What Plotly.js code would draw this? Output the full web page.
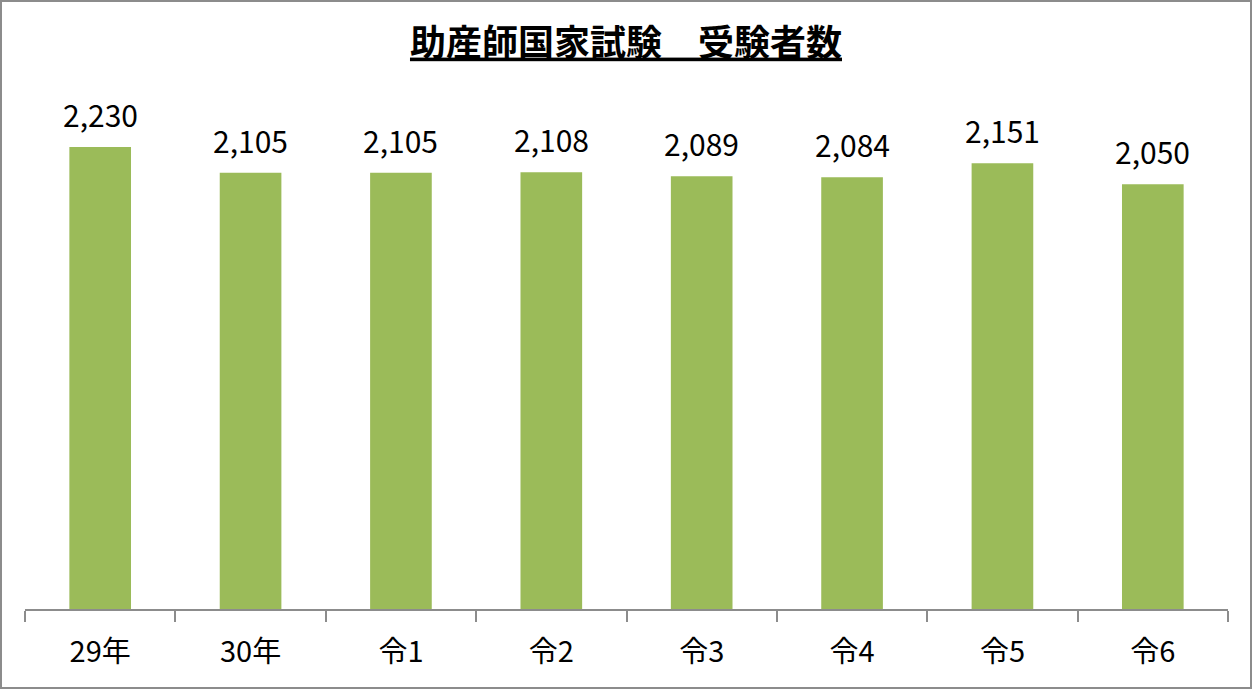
<!DOCTYPE html>
<html>
<head>
<meta charset="utf-8">
<script src="https://cdn.plot.ly/plotly-3.0.1.min.js"></script>
<style>
  html, body { margin: 0; padding: 0; background: #fff; }
  #frame { position: absolute; left: 0; top: 0; width: 1248px; height: 685px; border: 2px solid #8c8c8c; }
  #chart { position: absolute; left: -2px; top: -2px; width: 1252px; height: 689px; }
</style>
</head>
<body>
<div id="frame"><div id="chart"></div></div>
<script>
/* ── 助産師国家試験 受験者数 ── */

const years  = ["29年", "30年", "令1", "令2", "令3", "令4", "令5", "令6"];
const counts = [2230, 2105, 2105, 2108, 2089, 2084, 2151, 2050];

const BAR_COLOR  = "#9bbb59";
const AXIS_COLOR = "#8c8c8c";
const FONT = "'Noto Sans CJK JP', 'Noto Sans', sans-serif";

const bars = {
  type: "bar",
  x: years,
  y: counts,
  width: 0.41,
  marker: { color: BAR_COLOR, line: { width: 0 } },
  hoverinfo: "skip",
  showlegend: false,
};

/* data labels above each bar */
const annotations = years.map((yr, i) => ({
  x: yr, y: counts[i],
  xref: "x", yref: "y",
  text: counts[i].toLocaleString("en-US"),
  showarrow: false,
  xanchor: "center", yanchor: "bottom",
  yshift: 9,
  font: { family: FONT, size: 30, color: "#000" },
}));

const layout = {
  width: 1252,
  height: 689,
  paper_bgcolor: "rgba(0,0,0,0)",
  plot_bgcolor: "rgba(0,0,0,0)",
  margin: { l: 25, r: 24, t: 91, b: 80 },
  font: { family: FONT, color: "#000" },
  title: {
    text: "<u>助産師国家試験　受験者数</u>",
    x: 0.5, xref: "container", xanchor: "center",
    y: 1 - 43 / 689, yref: "container", yanchor: "middle",
    font: { family: FONT, size: 36, color: "#000", weight: "bold" },
  },
  xaxis: {
    type: "category",
    showline: true, linecolor: AXIS_COLOR, linewidth: 2,
    ticks: "outside", tickson: "boundaries",
    ticklen: 11, tickwidth: 2, tickcolor: AXIS_COLOR,
    tickfont: { family: FONT, size: 29, color: "#000" },
    ticklabelstandoff: 16,
    showgrid: false, zeroline: false, fixedrange: true,
  },
  yaxis: {
    range: [0, 2500],
    visible: false,
    showgrid: false, zeroline: false, fixedrange: true,
  },
  annotations,
  bargap: 0.59,
};

Plotly.newPlot("chart", [bars], layout, { staticPlot: true, displayModeBar: false });
</script>
</body>
</html>
